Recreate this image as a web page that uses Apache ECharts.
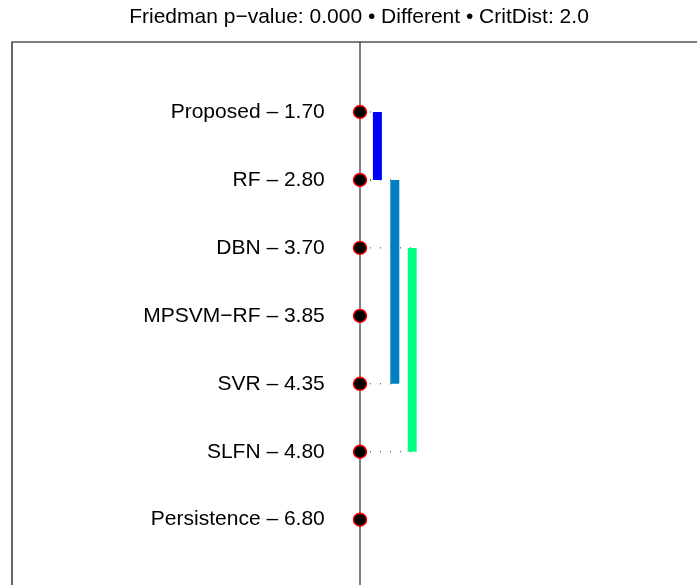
<!DOCTYPE html>
<html>
<head>
<meta charset="utf-8">
<script src="https://cdn.jsdelivr.net/npm/echarts@6/dist/echarts.min.js"></script>
<style>
  html, body { margin: 0; padding: 0; background: #fff; overflow: hidden; }
  #chart { width: 740px; height: 680px; }
</style>
</head>
<body>
<div id="chart"></div>
<script>
// Mean ranks from the Friedman / Nemenyi comparison
const methods = ['Proposed', 'RF', 'DBN', 'MPSVM−RF', 'SVR', 'SLFN', 'Persistence'];
const meanRanks = [1.70, 2.80, 3.70, 3.85, 4.35, 4.80, 6.80];
// Groups of methods whose ranks are not significantly different (first and last index)
const groupStart = [0, 1, 2];
const groupEnd = [1, 4, 5];
const groupColors = ['#0000FF', '#0080C0', '#00FF80'];
const titleText = 'Friedman p−value: 0.000 • Different • CritDist: 2.0';

const FONT = 'Liberation Sans';
const pos = methods.map((m, i) => i);          // row index of each method
const barX = [0.05, 0.10, 0.15];               // horizontal offset of each group bar

const series = [];

// central vertical line
series.push({
  type: 'line',
  data: [[0, -1.03], [0, 7.8]],
  symbol: 'none',
  lineStyle: { color: '#000', width: 1 },
  silent: true,
  z: 1
});

// dotted connectors and group bars
groupStart.forEach((s, g) => {
  const e = groupEnd[g];
  [s, e].forEach(idx => {
    series.push({
      type: 'line',
      data: [[0, pos[idx]], [barX[g], pos[idx]]],
      symbol: 'none',
      lineStyle: { color: '#333', width: 1, type: [1, 9] },
      silent: true,
      z: 1
    });
  });
  series.push({
    type: 'line',
    data: [[barX[g], pos[s]], [barX[g], pos[e]]],
    symbol: 'none',
    lineStyle: { color: groupColors[g], width: 9, cap: 'butt' },
    silent: true,
    z: 2
  });
});

// method points with labels
series.push({
  type: 'scatter',
  data: pos.map(p => [0, p]),
  symbol: 'circle',
  symbolSize: 13,
  itemStyle: { color: '#000', borderColor: '#FF0000', borderWidth: 1.4, opacity: 1 },
  label: {
    show: true,
    position: 'left',
    distance: 28,
    fontFamily: FONT,
    fontSize: 21,
    color: '#000',
    formatter: p => methods[p.dataIndex] + ' – ' + meanRanks[p.dataIndex].toFixed(2)
  },
  z: 3
});

const chart = echarts.init(document.getElementById('chart'), null, { renderer: 'canvas' });
chart.setOption({
  animation: false,
  backgroundColor: '#fff',
  title: {
    text: titleText,
    left: 354,
    top: 2,
    textAlign: 'center',
    textStyle: { fontFamily: FONT, fontSize: 21, fontWeight: 'normal', color: '#000' }
  },
  grid: {
    show: true,
    left: 12,
    top: 42,
    width: 696,
    height: 600,
    borderColor: '#000',
    borderWidth: 1.2,
    backgroundColor: '#fff'
  },
  xAxis: { type: 'value', min: -1, max: 1, show: false },
  yAxis: { type: 'value', min: -1.03, max: 7.8, inverse: true, show: false },
  series: series
});
</script>
</body>
</html>
